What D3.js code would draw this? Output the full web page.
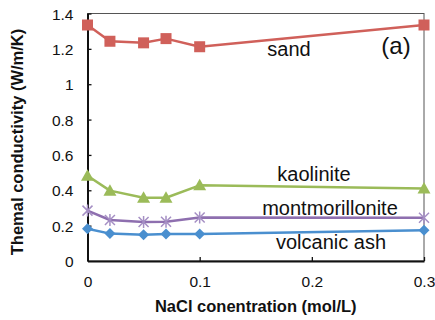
<!DOCTYPE html>
<html><head><meta charset="utf-8">
<script src="https://cdn.jsdelivr.net/npm/d3@7"></script>
<style>body{margin:0;background:#fff}svg{display:block}</style>
</head><body>
<script>
const xValues = [0, 0.02, 0.05, 0.07, 0.1, 0.3];
const sand = [1.335, 1.243, 1.234, 1.258, 1.212, 1.335];
const kaolinite = [0.482, 0.398, 0.358, 0.358, 0.428, 0.41];
const montmorillonite = [0.285, 0.232, 0.221, 0.222, 0.246, 0.245];
const volcanicAsh = [0.182, 0.155, 0.148, 0.153, 0.153, 0.174];
const seriesNames = ["sand", "kaolinite", "montmorillonite", "volcanic ash"];
const xTicks = [0, 0.1, 0.2, 0.3];
const yTicks = [0, 0.2, 0.4, 0.6, 0.8, 1, 1.2, 1.4];

const W = 435, H = 320;
const m = {l: 87.5, r: 11, t: 13.5, b: 59};
const svg = d3.select("body").append("svg").attr("width", W).attr("height", H);
const x = d3.scaleLinear().domain([0, 0.3]).range([m.l, W - m.r]);
const y = d3.scaleLinear().domain([0, 1.4]).range([H - m.b, m.t]);
const font = "'Liberation Sans', Arial, sans-serif";

// frame
svg.append("rect").attr("x", m.l).attr("y", m.t).attr("width", x(0.3) - m.l).attr("height", y(0) - m.t)
  .attr("fill", "none").attr("stroke", "#555").attr("stroke-width", 1);

const xAxis = svg.append("g").attr("transform", `translate(0,${y(0)})`)
  .call(d3.axisBottom(x).tickValues(xTicks).tickFormat(d => d3.format("")(d)).tickSizeInner(-4).tickSizeOuter(0).tickPadding(15));
const yAxis = svg.append("g").attr("transform", `translate(${m.l},0)`)
  .call(d3.axisLeft(y).tickValues(yTicks).tickFormat(d => d3.format("")(d)).tickSizeInner(-4).tickSizeOuter(0).tickPadding(14));
[xAxis, yAxis].forEach(g => {
  g.select(".domain").attr("stroke", "#111").attr("stroke-width", 2);
  g.selectAll(".tick line").attr("stroke", "#111").attr("stroke-width", 1.3);
  g.selectAll("text").attr("font-family", font).attr("font-size", 15.5).attr("fill", "#111");
});
xAxis.selectAll(".tick").filter(d => d === 0).select("line").remove();
yAxis.selectAll(".tick").filter(d => d === 0).select("line").remove();
yAxis.selectAll("text").attr("dy", "0.36em");

const colors = ["#D0605A", "#9BBB59", "#8E6FAF", "#4A8FCF"];
const data = [sand, kaolinite, montmorillonite, volcanicAsh];
const line = d3.line().x((d, i) => x(xValues[i])).y(d => y(d)).curve(d3.curveLinear);

data.forEach((vals, k) => {
  svg.append("path").attr("d", line(vals)).attr("fill", "none").attr("stroke", colors[k])
    .attr("stroke-width", 2.5).attr("stroke-linejoin", "round");
  const g = svg.append("g");
  vals.forEach((v, i) => {
    const cx = x(xValues[i]), cy = y(v);
    if (k === 0) {
      g.append("rect").attr("x", cx - 5.5).attr("y", cy - 5.5).attr("width", 11).attr("height", 11).attr("fill", colors[k]);
    } else if (k === 1) {
      g.append("path").attr("d", `M${cx},${cy - 6.5}L${cx + 6.5},${cy + 5}L${cx - 6.5},${cy + 5}Z`).attr("fill", colors[k]);
    } else if (k === 2) {
      g.append("path").attr("d", `M${cx - 5},${cy - 5}L${cx + 5},${cy + 5}M${cx - 5},${cy + 5}L${cx + 5},${cy - 5}M${cx},${cy - 6}L${cx},${cy + 6}`)
        .attr("stroke", "#A58FC4").attr("stroke-width", 1.5).attr("fill", "none");
    } else {
      g.append("path").attr("d", `M${cx},${cy - 5.5}L${cx + 5.5},${cy}L${cx},${cy + 5.5}L${cx - 5.5},${cy}Z`).attr("fill", colors[k]);
    }
  });
});

// series labels
const labelPos = [[289, 56], [314, 181], [330, 215], [331, 249]];
seriesNames.forEach((n, k) => {
  svg.append("text").attr("x", labelPos[k][0]).attr("y", labelPos[k][1]).attr("text-anchor", "middle")
    .attr("font-family", font).attr("font-size", 20).attr("fill", "#111").text(n);
});
svg.append("text").attr("x", 396).attr("y", 54).attr("text-anchor", "middle")
  .attr("font-family", font).attr("font-size", 24).attr("fill", "#111").text("(a)");

// axis titles
svg.append("text").attr("x", (m.l + x(0.3)) / 2).attr("y", 312).attr("text-anchor", "middle")
  .attr("font-family", font).attr("font-weight", "bold").attr("font-size", 16.5).attr("fill", "#111")
  .text("NaCl conentration (mol/L)");
svg.append("text").attr("transform", "translate(23,142) rotate(-90)").attr("text-anchor", "middle")
  .attr("font-family", font).attr("font-weight", "bold").attr("font-size", 16.5).attr("fill", "#111")
  .text("Themal conductivity (W/m/K)");
</script>
</body></html>
